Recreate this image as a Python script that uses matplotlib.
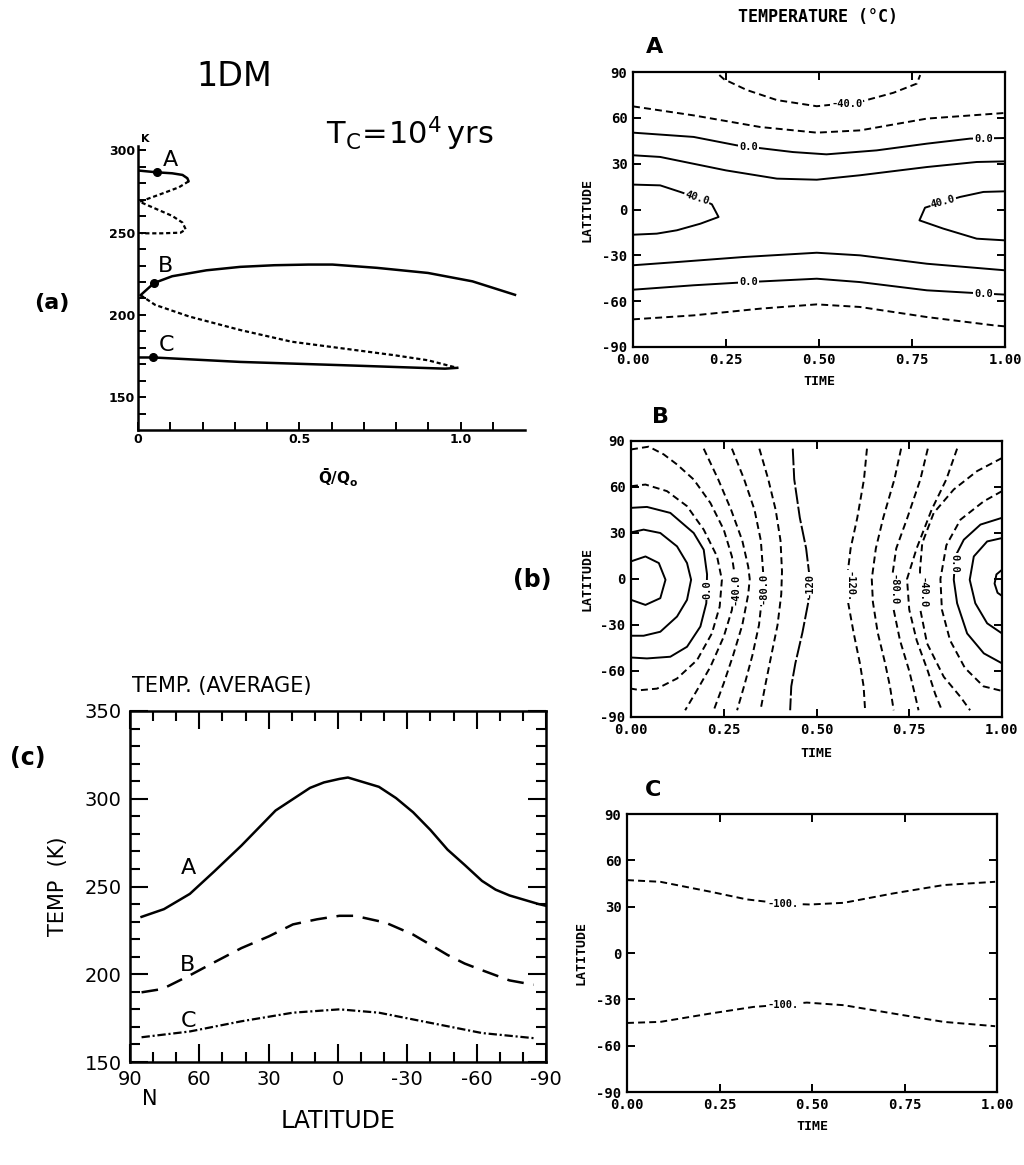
import matplotlib
matplotlib.use("Agg")
import matplotlib.pyplot as plt

plt.rcParams['lines.scale_dashes'] = False

W, H = 1024, 1165
fig = plt.figure(figsize=(W / 100, H / 100), dpi=100)

def rect(l, t, r, b):
    return [l / W, 1 - b / H, (r - l) / W, (b - t) / H]

def ftext(x, y, s, **kw):
    fig.text(x / W, 1 - y / H, s, **kw)

MONO = 'DejaVu Sans Mono'

# ---------------- data: panel (a) bifurcation diagram ----------------
qA_solid = [0.0, 0.058, 0.106, 0.138, 0.153, 0.157]
TA_solid = [287.8, 286.7, 286.1, 285.1, 283.1, 281.2]
qA_dash = [0.157, 0.127, 0.085, 0.042, 0.005, 0.053, 0.106, 0.138, 0.148, 0.132, 0.074, 0.011]
TA_dash = [281.2, 277.6, 274.5, 271.4, 268.8, 264.7, 260.2, 256.1, 252.0, 250.0, 249.6, 249.6]
qB_solid = [0.008, 0.05, 0.106, 0.212, 0.317, 0.423, 0.529, 0.603, 0.741, 0.899, 1.037, 1.169]
TB_solid = [212.0, 219.4, 223.5, 227.1, 229.2, 230.2, 230.6, 230.6, 228.6, 225.5, 220.4, 212.2]
qB_dash = [0.008, 0.053, 0.159, 0.317, 0.476, 0.635, 0.794, 0.899, 0.99]
TB_dash = [212.0, 206.1, 199.0, 190.8, 183.7, 179.6, 175.5, 172.4, 167.8]
qC_solid = [0.0, 0.048, 0.317, 0.635, 0.952, 0.99]
TC_solid = [174.1, 174.1, 171.4, 169.4, 167.3, 167.8]
dot_q = [0.058, 0.05, 0.048]
dot_T = [286.7, 219.4, 174.1]
state_names = ['A', 'B', 'C']
state_label_q = [0.10, 0.085, 0.087]
state_label_T = [294.0, 229.6, 181.6]

# ---------------- data: panel (c) zonal mean temperature ----------------
latA = [85, 75.3, 64.1, 53.7, 41.8, 27, 12.1, 6.1, -0.6, -4.3, -17.7, -25.1, -32.5,
        -40, -47.4, -54.8, -62.3, -68.2, -74.2, -86.8, -90]
tempA = [232.7, 237.1, 245.8, 258.4, 273.3, 293.3, 306.2, 309.3, 311.3, 312.1, 306.8, 300.4, 292.3,
         282.2, 271.0, 262.3, 253.2, 248.2, 244.9, 240.0, 239.0]
latB = [85, 76, 64.1, 53.7, 41.8, 29.9, 19.5, 9.1, -0.6, -7.3, -20.6, -32.5, -40, -47.4,
        -54.8, -62.3, -74.2, -84.6]
tempB = [189.7, 191.6, 199.4, 206.7, 214.9, 221.6, 228.4, 231.3, 233.3, 233.3, 229.4, 222.6, 216.8, 211.0,
         206.1, 202.3, 196.5, 194.0]
latC = [85, 64.1, 41.8, 19.5, -0.6, -17.7, -40, -62.3, -84.6]
tempC = [164.1, 167.4, 173.2, 178.1, 180.0, 178.1, 172.3, 166.5, 163.6]

# ---------------- data: contour lines (time, latitude) ----------------
# Panel A
A_m40_t = [0.232, 0.245, 0.306, 0.387, 0.494, 0.611, 0.70, 0.763, 0.772]
A_m40_l = [88.0, 85.2, 78.2, 71.6, 67.6, 70.5, 76.4, 82.4, 88.0]
A_m20n_t = [0, 0.163, 0.342, 0.494, 0.611, 0.79, 1.0]
A_m20n_l = [67.5, 61.6, 54.0, 50.3, 51.8, 59.5, 63.2]
A_0n_t = [0, 0.163, 0.279, 0.43, 0.52, 0.655, 0.79, 0.906, 1.0]
A_0n_l = [50.3, 47.5, 42.0, 37.6, 36.1, 38.7, 43.1, 46.4, 46.8]
A_20n_t = [0, 0.073, 0.25, 0.387, 0.494, 0.61, 0.79, 0.924, 1.0]
A_20n_l = [35.5, 34.4, 25.6, 20.2, 19.5, 22.4, 27.8, 31.1, 31.5]
A_40w_t = [0, 0.073, 0.127, 0.172, 0.212, 0.23, 0.181, 0.118, 0.064, 0]
A_40w_l = [16.3, 15.8, 11.5, 7.7, 3.4, -4.9, -9.3, -13.6, -15.8, -16.5]
A_40e_t = [1.0, 0.942, 0.879, 0.834, 0.785, 0.77, 0.834, 0.924, 1.0]
A_40e_l = [11.9, 11.5, 8.2, 4.9, 1.2, -7.1, -12.5, -19.1, -20.2]
A_20s_t = [0, 0.118, 0.297, 0.494, 0.61, 0.79, 1.0]
A_20s_l = [-36.5, -34.4, -31.1, -28.3, -30.0, -35.5, -39.8]
A_0s_t = [0, 0.163, 0.31, 0.494, 0.61, 0.79, 0.942, 1.0]
A_0s_l = [-52.5, -49.6, -47.5, -45.3, -47.5, -52.9, -55.0, -55.7]
A_m20s_t = [0, 0.163, 0.342, 0.494, 0.61, 0.79, 0.969, 1.0]
A_m20s_l = [-71.9, -69.3, -64.9, -62.1, -63.8, -70.4, -75.8, -76.5]
A_lines = [(A_m40_t, A_m40_l, 'd'), (A_m20n_t, A_m20n_l, 'd'), (A_0n_t, A_0n_l, 's'),
           (A_20n_t, A_20n_l, 's'), (A_40w_t, A_40w_l, 's'), (A_40e_t, A_40e_l, 's'),
           (A_20s_t, A_20s_l, 's'), (A_0s_t, A_0s_l, 's'), (A_m20s_t, A_m20s_l, 'd')]
A_lab_text = ['-40.0', '0.0', '0.0', '40.0', '40.0', '0.0', '0.0']
A_lab_t = [0.575, 0.311, 0.942, 0.172, 0.834, 0.311, 0.942]
A_lab_l = [69.3, 40.9, 46.4, 7.7, 4.9, -47.5, -55.5]
A_lab_rot = [0, 0, 0, -18, 15, 0, 0]

# Panel B
B_40w_t = [0, 0.039, 0.075, 0.093, 0.079, 0.039, 0]
B_40w_l = [11.5, 14.7, 10.4, -0.5, -12.5, -16.9, -13.6]
B_20w_t = [0, 0.034, 0.079, 0.124, 0.151, 0.162, 0.151, 0.124, 0.079, 0.034, 0]
B_20w_l = [30.4, 32.2, 30.0, 21.3, 10.4, -0.5, -13.6, -24.5, -34.4, -37.0, -37.0]
B_0w_t = [0, 0.043, 0.106, 0.169, 0.196, 0.205, 0.203, 0.187, 0.151, 0.106, 0.043, 0]
B_0w_l = [46.4, 47.0, 43.1, 30.0, 19.1, 3.0, -15.8, -31.0, -44.2, -50.7, -51.8, -51.2]
B_m20w_t = [0, 0.039, 0.097, 0.151, 0.196, 0.232, 0.245, 0.239, 0.218, 0.178, 0.124, 0.07, 0.025, 0]
B_m20w_l = [60.5, 61.6, 57.3, 47.5, 32.2, 14.7, -0.5, -18.0, -35.5, -52.9, -64.9, -71.5, -72.5, -71.5]
B_m40w_t = [0, 0.048, 0.088, 0.124, 0.169, 0.214, 0.25, 0.272, 0.281, 0.272, 0.25, 0.214, 0.178, 0.146]
B_m40w_l = [84.5, 86.3, 81.3, 74.7, 64.9, 49.6, 32.2, 14.7, 0, -20.2, -37.6, -57.3, -72.5, -85.6]
B_m60w_t = [0.196, 0.235, 0.27, 0.3, 0.316, 0.32, 0.316, 0.3, 0.275, 0.25, 0.223]
B_m60w_l = [85, 65, 45, 25, 8, 0, -10, -30, -50, -68, -85.6]
B_m80w_t = [0.272, 0.305, 0.333, 0.35, 0.356, 0.354, 0.345, 0.327, 0.307, 0.286]
B_m80w_l = [85, 65, 45, 25, 5, -10, -30, -50, -68, -85.6]
B_m100w_t = [0.346, 0.37, 0.39, 0.403, 0.407, 0.405, 0.395, 0.378, 0.363, 0.349]
B_m100w_l = [85, 65, 45, 25, 5, -10, -30, -50, -68, -85.6]
B_m120w_t = [0.436, 0.44, 0.455, 0.472, 0.482, 0.478, 0.462, 0.443, 0.432, 0.429]
B_m120w_l = [85, 65, 40, 20, 0, -15, -35, -55, -70, -85.6]
B_m120e_t = [0.636, 0.628, 0.61, 0.592, 0.582, 0.585, 0.6, 0.617, 0.627, 0.631]
B_m120e_l = [85, 65, 40, 20, 0, -15, -35, -55, -70, -85.6]
B_m100e_t = [0.728, 0.71, 0.68, 0.66, 0.649, 0.652, 0.665, 0.685, 0.698, 0.708]
B_m100e_l = [85, 65, 40, 20, 0, -15, -35, -55, -70, -85.6]
B_m80e_t = [0.8, 0.78, 0.745, 0.715, 0.703, 0.708, 0.725, 0.75, 0.765, 0.775]
B_m80e_l = [85, 65, 40, 20, 0, -20, -40, -60, -75, -85.6]
B_m60e_t = [0.879, 0.85, 0.81, 0.77, 0.744, 0.75, 0.77, 0.8, 0.82, 0.838]
B_m60e_l = [85, 65, 45, 20, 0, -20, -40, -60, -75, -85.6]
B_m40e_t = [1.0, 0.933, 0.87, 0.816, 0.785, 0.779, 0.78, 0.798, 0.843, 0.888, 0.914]
B_m40e_l = [78.9, 70.4, 58.4, 43.1, 23.4, 6.0, -20.2, -42.0, -63.8, -76.9, -85.6]
B_m20e_t = [1.0, 0.951, 0.888, 0.85, 0.834, 0.838, 0.86, 0.9, 0.95, 1.0]
B_m20e_l = [57.3, 50.7, 38.7, 22.0, 0, -20, -40, -58, -70, -73]
B_0e_t = [1.0, 0.942, 0.897, 0.874, 0.87, 0.879, 0.906, 0.951, 1.0]
B_0e_l = [39.9, 35.5, 25.6, 14.7, -0.5, -15.8, -35.5, -48.5, -55.0]
B_20e_t = [1.0, 0.96, 0.924, 0.913, 0.928, 0.96, 1.0]
B_20e_l = [26.7, 24.5, 14.7, -0.5, -15.8, -28.9, -35.5]
B_40e_t = [1.0, 0.985, 0.98, 0.988, 1.0]
B_40e_l = [6.0, 3.0, -3.0, -9.0, -11.0]
B_lines = [(B_40w_t, B_40w_l, 's'), (B_20w_t, B_20w_l, 's'), (B_0w_t, B_0w_l, 's'),
           (B_m20w_t, B_m20w_l, 'd'), (B_m40w_t, B_m40w_l, 'd'), (B_m60w_t, B_m60w_l, 'd'),
           (B_m80w_t, B_m80w_l, 'd'), (B_m100w_t, B_m100w_l, 'd'), (B_m120w_t, B_m120w_l, 'l'),
           (B_m120e_t, B_m120e_l, 'd'), (B_m100e_t, B_m100e_l, 'd'), (B_m80e_t, B_m80e_l, 'd'),
           (B_m60e_t, B_m60e_l, 'd'), (B_m40e_t, B_m40e_l, 'd'), (B_m20e_t, B_m20e_l, 'd'),
           (B_0e_t, B_0e_l, 's'), (B_20e_t, B_20e_l, 's'), (B_40e_t, B_40e_l, 's')]
B_lab_text = ['0.0', '-40.0', '-80.0', '-120', '-120.', '-80.0', '-40.0', '0.0']
B_lab_t = [0.205, 0.281, 0.356, 0.482, 0.588, 0.707, 0.785, 0.872]
B_lab_l = [-7, -7, -6, -4, -5, -7, -9, 10]
B_lab_rot = [90, 90, 90, 90, 270, 270, 270, 270]

# Panel C
C_n_t = [0, 0.09, 0.225, 0.324, 0.42, 0.495, 0.586, 0.72, 0.856, 0.995]
C_n_l = [47.2, 46.1, 39.7, 34.7, 32.0, 31.4, 32.5, 38.6, 44.0, 46.1]
C_s_t = [0, 0.09, 0.225, 0.342, 0.42, 0.486, 0.586, 0.72, 0.856, 0.995]
C_s_l = [-45.3, -44.6, -39.2, -34.9, -33.5, -32.1, -33.8, -39.2, -44.6, -47.4]
C_lines = [(C_n_t, C_n_l, 'd'), (C_s_t, C_s_l, 'd')]
C_lab_text = ['-100.', '-100.']
C_lab_t = [0.423, 0.423]
C_lab_l = [32.0, -33.8]
C_lab_rot = [0, 0]

time_ticks = [0, 0.25, 0.5, 0.75, 1.0]
time_labels = ['0.00', '0.25', '0.50', '0.75', '1.00']
lat_ticks = [-90, -60, -30, 0, 30, 60, 90]
lat_labels = ['-90', '-60', '-30', '0', '30', '60', '90']

# ---------------- panel (a) ----------------
axa = fig.add_axes(rect(138, 145.5, 525, 430))
axa.set_xlim(0, 1.2)
axa.set_ylim(130, 303)
for s in ['top', 'right']:
    axa.spines[s].set_visible(False)
for s in ['left', 'bottom']:
    axa.spines[s].set_linewidth(1.8)
axa.set_xticks([0, 0.5, 1.0])
axa.set_xticklabels(['0', '0.5', '1.0'], fontweight='bold', fontsize=9)
axa.set_xticks([0.1, 0.2, 0.3, 0.4, 0.6, 0.7, 0.8, 0.9, 1.1], minor=True)
axa.set_yticks([150, 200, 250, 300])
axa.set_yticklabels(['150', '200', '250', '300'], fontweight='bold', fontsize=9)
axa.set_yticks([140, 160, 170, 180, 190, 210, 220, 230, 240, 260, 270, 280, 290], minor=True)
axa.tick_params(which='both', direction='in', length=6, width=1.4, pad=2)
axa.plot(qA_solid, TA_solid, color='k', lw=1.8, solid_capstyle='round')
axa.plot(qA_dash, TA_dash, color='k', lw=1.6, dashes=(3, 2))
axa.plot(qB_solid, TB_solid, color='k', lw=1.8)
axa.plot(qB_dash, TB_dash, color='k', lw=1.6, dashes=(3, 2))
axa.plot(qC_solid, TC_solid, color='k', lw=1.8)
axa.plot(dot_q, dot_T, 'o', color='k', ms=5.5, clip_on=False)
for n, q, T in zip(state_names, state_label_q, state_label_T):
    axa.text(q, T, n, fontsize=16, ha='center', va='center')
axa.text(0.01, 304, 'K', fontsize=8, fontweight='bold', ha='left', va='bottom')

ftext(234, 76, '1DM', fontsize=24, ha='center', va='center')
ftext(410, 134, r'$\mathregular{T_C\!=\!10^4\,yrs}$', fontsize=22, ha='center', va='center')
ftext(52, 303, '(a)', fontsize=16, fontweight='bold', ha='center', va='center')
ftext(338, 478, r'$\mathregular{\bar{Q}/Q_o}$', fontsize=11, fontweight='bold', ha='center', va='center')

# ---------------- contour panels ----------------
def contour_panel(r, lines, lab_text, lab_t, lab_l, lab_rot, ylab_x, xlab_y):
    ax = fig.add_axes(r)
    ax.set_xlim(0, 1)
    ax.set_ylim(-90, 90)
    ax.set_xticks(time_ticks)
    ax.set_xticklabels(time_labels, family=MONO, fontweight='bold', fontsize=10)
    ax.set_yticks(lat_ticks)
    ax.set_yticklabels(lat_labels, family=MONO, fontweight='bold', fontsize=10)
    ax.tick_params(direction='in', top=True, right=True, length=6, width=1.4, pad=4)
    for s in ax.spines.values():
        s.set_linewidth(1.6)
    for t, l, style in lines:
        if style == 's':
            ax.plot(t, l, color='k', lw=1.4)
        elif style == 'l':
            ax.plot(t, l, color='k', lw=1.4, dashes=(12, 2))
        else:
            ax.plot(t, l, color='k', lw=1.4, dashes=(5, 3))
    for s, t, l, rot in zip(lab_text, lab_t, lab_l, lab_rot):
        ax.text(t, l, s, family=MONO, fontweight='bold', fontsize=7.5, rotation=rot,
                ha='center', va='center', zorder=5,
                bbox=dict(facecolor='white', edgecolor='none', pad=0.6))
    ax.text(ylab_x, 0.5, 'LATITUDE', transform=ax.transAxes, rotation=90, family=MONO,
            fontweight='bold', fontsize=9.5, ha='center', va='center')
    ax.text(0.5, xlab_y, 'TIME', transform=ax.transAxes, family=MONO,
            fontweight='bold', fontsize=9.5, ha='center', va='center')
    return ax

contour_panel(rect(633, 72, 1005, 347), A_lines, A_lab_text, A_lab_t, A_lab_l, A_lab_rot, -0.124, -0.127)
contour_panel(rect(631, 441, 1002, 717), B_lines, B_lab_text, B_lab_t, B_lab_l, B_lab_rot, -0.118, -0.132)
contour_panel(rect(627, 814, 997, 1092), C_lines, C_lab_text, C_lab_t, C_lab_l, C_lab_rot, -0.125, -0.125)

ftext(818, 17, 'TEMPERATURE (°C)', family=MONO, fontweight='bold', fontsize=12, ha='center', va='center')
ftext(655, 47, 'A', fontsize=16, fontweight='bold', ha='center', va='center')
ftext(660, 417, 'B', fontsize=16, fontweight='bold', ha='center', va='center')
ftext(653, 790, 'C', fontsize=16, fontweight='bold', ha='center', va='center')
ftext(532, 580, '(b)', fontsize=17, fontweight='bold', ha='center', va='center')

# ---------------- panel (c) ----------------
axc = fig.add_axes(rect(130, 711, 546, 1062))
axc.set_xlim(90, -90)
axc.set_ylim(150, 350)
axc.set_xticks([90, 60, 30, 0, -30, -60, -90])
axc.set_xticklabels(['90', '60', '30', '0', '-30', '-60', '-90'], fontsize=14)
axc.set_xticks([80, 70, 50, 40, 20, 10, -10, -20, -40, -50, -70, -80], minor=True)
axc.set_yticks([150, 200, 250, 300, 350])
axc.set_yticklabels(['150', '200', '250', '300', '350'], fontsize=14)
axc.set_yticks([160, 170, 180, 190, 210, 220, 230, 240, 260, 270, 280, 290, 310, 320, 330, 340], minor=True)
axc.tick_params(which='major', direction='in', top=True, right=True, length=13, width=1.5, pad=6)
axc.tick_params(which='minor', direction='in', top=True, right=True, length=7, width=1.5)
for s in axc.spines.values():
    s.set_linewidth(1.8)
axc.plot(latA, tempA, color='k', lw=1.8)
axc.plot(latB, tempB, color='k', lw=1.8, dashes=(12, 7))
axc.plot(latC, tempC, color='k', lw=1.6, dashes=(6, 2, 1.5, 2))
axc.set_ylabel('TEMP  (K)', fontsize=15, labelpad=12)
axc.set_xlabel('LATITUDE', fontsize=17, labelpad=14)
ftext(188, 868, 'A', fontsize=16, ha='center', va='center')
ftext(188, 965, 'B', fontsize=16, ha='center', va='center')
ftext(189, 1021, 'C', fontsize=16, ha='center', va='center')
ftext(132, 686, 'TEMP. (AVERAGE)', fontsize=15, ha='left', va='center')
ftext(28, 758, '(c)', fontsize=17, fontweight='bold', ha='center', va='center')
ftext(150, 1099, 'N', fontsize=15, ha='center', va='center')

fig.savefig('out.png', dpi=100, facecolor='white')
